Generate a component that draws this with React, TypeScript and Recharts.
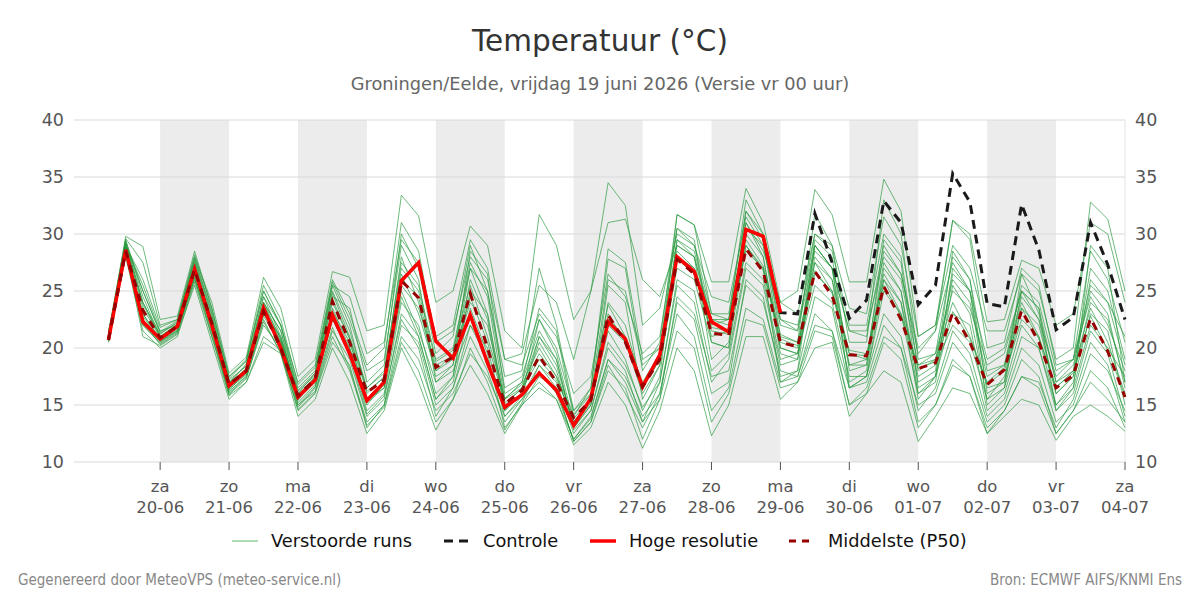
import React from "react";
import {Line, LineChart, ReferenceArea, ReferenceLine, XAxis, YAxis} from "recharts";

// 6-hourly steps, hours relative to za 20-06 00:00, first step 19-06 06:00
const START_HOUR = -18;

const dayNames = ["za", "zo", "ma", "di", "wo", "do", "vr", "za", "zo", "ma", "di", "wo", "do", "vr", "za"];
const dayDates = ["20-06", "21-06", "22-06", "23-06", "24-06", "25-06", "26-06", "27-06", "28-06", "29-06", "30-06", "01-07", "02-07", "03-07", "04-07"];
const yTicks = [10, 15, 20, 25, 30, 35, 40];

const hres = [
    20.7, 28.6, 22.3,
    20.8, 21.9, 26.9, 22.0,
    16.7, 18.0, 23.5, 20.0,
    15.7, 17.2, 22.9, 19.5,
    15.4, 17.0, 25.9, 27.5,
    20.6, 19.1, 22.9, 18.7,
    14.8, 15.9, 17.8, 16.3,
    13.2, 15.6, 22.3, 20.8,
    16.6, 19.4, 28.0, 26.7,
    22.3, 21.4, 30.4, 29.8,
    23.1,
];

const control = [
    20.7, 28.6, 22.3,
    20.8, 21.9, 26.9, 22.0,
    16.7, 18.0, 23.5, 20.0,
    15.7, 17.2, 22.9, 19.5,
    15.4, 17.0, 25.9, 27.5,
    20.6, 19.1, 22.9, 18.7,
    14.8, 15.9, 17.8, 16.3,
    13.2, 15.6, 22.3, 20.8,
    16.6, 19.4, 28.0, 26.7,
    22.3, 21.4, 30.4, 29.8,
    23.1, 23.0, 31.8, 27.5,
    22.6, 24.2, 32.9, 31.0,
    23.8, 25.5, 35.3, 32.8,
    23.9, 23.6, 32.6, 28.6,
    21.6, 22.7, 31.0, 27.3,
    22.5,
];

const median = [
    20.7, 28.5, 23.3,
    20.9, 21.9, 26.9, 22.2,
    16.8, 18.0, 23.2, 20.0,
    15.8, 17.3, 24.1, 20.5,
    16.1, 17.2, 25.9, 24.4,
    18.3, 19.2, 24.8, 20.0,
    15.1, 16.3, 19.3, 17.0,
    13.9, 15.4, 22.9, 20.5,
    16.6, 19.0, 27.8, 26.5,
    21.3, 21.1, 28.7, 26.7,
    20.5, 20.1, 26.7, 24.6,
    19.4, 19.3, 25.4, 22.5,
    18.2, 18.7, 23.1, 20.5,
    16.8, 18.1, 23.3, 20.5,
    16.5, 17.6, 22.6, 19.7,
    15.7,
];

const members = [
    [21.0, 29.2, 24.0, 21.2, 22.3, 27.5, 22.5, 17.2, 18.4, 24.0, 20.8, 16.2, 17.6, 24.8, 21.0, 16.5, 17.8, 27.0, 25.0, 18.8, 19.8, 25.5, 21.0, 15.6, 16.8, 20.0, 17.5, 14.2, 15.9, 23.8, 21.0, 17.0, 19.5, 28.5, 27.0, 21.8, 21.5, 29.5, 27.2, 21.2, 20.5, 27.5, 25.0, 19.8, 19.5, 26.0, 23.0, 18.5, 19.0, 24.0, 21.0, 17.0, 18.3, 24.0, 21.0, 16.5, 18.0, 23.5, 20.5, 16.0],
    [21.5, 28.2, 22.0, 20.5, 21.5, 26.2, 21.0, 16.2, 17.5, 22.5, 19.5, 14.8, 16.5, 21.8, 18.2, 13.5, 15.0, 22.0, 20.5, 15.0, 16.5, 21.0, 18.0, 13.5, 15.5, 17.0, 15.5, 12.0, 13.8, 19.0, 17.0, 13.5, 15.5, 24.5, 23.0, 17.5, 18.0, 25.5, 24.0, 18.0, 17.5, 23.0, 21.5, 16.5, 17.0, 22.0, 20.0, 15.0, 16.0, 20.5, 18.5, 13.5, 15.0, 19.0, 17.5, 12.5, 14.5, 18.0, 16.5, 13.0],
    [21.0, 29.8, 28.9, 22.5, 22.8, 28.5, 23.5, 17.5, 19.0, 25.0, 22.0, 17.0, 18.5, 26.0, 23.0, 18.5, 20.0, 31.0, 28.5, 20.5, 21.5, 28.0, 26.0, 19.0, 19.5, 25.5, 24.0, 19.0, 25.0, 34.5, 32.5, 22.0, 23.5, 30.0, 29.0, 23.0, 22.5, 33.0, 30.0, 22.5, 21.5, 28.5, 27.0, 21.5, 21.0, 29.0, 26.5, 20.0, 21.5, 27.5, 25.0, 19.0, 20.0, 25.0, 22.5, 17.5, 19.0, 24.5, 22.0, 18.0],
    [20.8, 29.0, 26.0, 21.8, 22.5, 28.0, 24.0, 17.8, 19.2, 26.2, 23.5, 17.5, 19.0, 26.7, 26.2, 21.5, 22.0, 33.4, 31.6, 24.0, 25.0, 30.7, 29.0, 21.5, 20.0, 31.7, 29.0, 22.5, 25.0, 31.0, 31.3, 26.0, 24.5, 29.0, 28.0, 22.0, 22.5, 31.0, 28.5, 24.0, 23.0, 30.0, 29.0, 23.5, 23.0, 31.5, 29.0, 21.0, 22.0, 31.2, 30.0, 22.3, 22.5, 27.7, 27.0, 22.0, 23.0, 31.0, 30.0, 24.0],
    [21.2, 29.5, 24.5, 21.0, 22.0, 27.2, 22.0, 16.8, 18.2, 24.5, 21.0, 15.8, 17.5, 25.5, 22.0, 16.0, 17.5, 28.0, 24.0, 17.5, 18.5, 27.0, 23.0, 15.0, 15.8, 21.0, 19.0, 13.0, 15.0, 25.5, 24.0, 15.5, 18.5, 31.7, 30.8, 25.8, 25.8, 34.0, 31.0, 24.0, 25.0, 33.9, 31.7, 25.8, 25.8, 34.8, 32.0, 21.0, 22.0, 29.0, 27.0, 21.5, 21.5, 26.5, 25.0, 19.0, 20.0, 32.8, 31.3, 25.0],
    [20.5, 28.5, 21.0, 20.2, 21.2, 25.5, 20.5, 15.5, 17.0, 20.5, 19.5, 14.0, 15.5, 20.0, 17.0, 12.5, 14.5, 20.0, 17.0, 12.8, 15.5, 18.5, 16.0, 12.5, 15.0, 16.5, 15.5, 11.5, 13.0, 17.0, 15.0, 11.2, 14.5, 20.0, 18.0, 12.3, 15.0, 21.0, 21.0, 15.5, 17.0, 20.0, 20.5, 14.0, 16.0, 18.0, 17.0, 11.8, 14.0, 16.5, 16.0, 12.5, 14.0, 15.5, 15.0, 11.9, 14.0, 15.0, 14.0, 12.7],
    [21.0, 28.8, 23.0, 20.8, 21.8, 27.0, 22.5, 16.5, 17.8, 23.5, 20.5, 15.5, 17.0, 23.5, 20.0, 14.5, 16.0, 24.0, 22.0, 16.0, 17.5, 26.0, 22.5, 14.5, 16.0, 22.5, 19.5, 13.5, 15.5, 22.0, 20.5, 16.0, 18.5, 27.0, 26.0, 20.5, 20.0, 31.0, 28.0, 19.5, 19.0, 29.0, 27.0, 18.5, 18.5, 27.5, 25.0, 17.0, 18.0, 28.5, 26.0, 16.0, 17.0, 26.5, 23.0, 17.0, 18.0, 27.0, 25.0, 19.0],
    [21.3, 29.0, 25.5, 21.5, 22.0, 27.8, 23.0, 16.9, 18.6, 24.5, 22.0, 16.0, 17.8, 24.5, 23.5, 17.0, 18.5, 30.0, 27.0, 19.5, 21.0, 29.0, 25.0, 17.5, 18.0, 27.0, 22.0, 14.5, 16.5, 27.8, 27.0, 18.0, 20.5, 31.7, 30.8, 23.0, 23.0, 32.0, 30.0, 21.0, 20.5, 31.8, 29.0, 20.5, 20.5, 33.0, 30.0, 19.0, 19.5, 28.0, 26.0, 18.0, 18.5, 25.5, 24.0, 18.0, 19.0, 28.5, 26.0, 20.5],
    [20.6, 28.0, 21.5, 20.0, 21.0, 25.8, 21.0, 15.8, 17.0, 21.0, 19.8, 14.5, 16.0, 20.5, 18.5, 13.0, 15.0, 21.0, 19.0, 14.5, 16.0, 19.5, 17.5, 14.0, 15.5, 18.0, 16.0, 12.0, 14.0, 19.0, 17.5, 14.0, 16.0, 24.0, 22.5, 16.0, 17.0, 26.0, 24.5, 17.5, 18.0, 24.5, 23.5, 16.5, 17.5, 23.0, 21.0, 14.5, 16.5, 21.5, 19.5, 14.0, 15.5, 20.0, 18.5, 13.5, 15.0, 19.5, 18.0, 14.5],
    [21.0, 29.3, 24.0, 21.0, 22.0, 27.0, 22.5, 17.0, 18.0, 23.0, 21.0, 16.0, 17.0, 22.5, 20.0, 15.5, 16.5, 26.0, 24.5, 18.0, 19.0, 24.0, 22.0, 15.5, 16.5, 19.5, 17.5, 13.5, 15.5, 24.0, 22.0, 16.5, 19.0, 29.5, 28.5, 22.5, 22.0, 30.0, 28.0, 20.0, 19.5, 26.5, 25.0, 18.5, 19.0, 28.5, 26.5, 19.5, 21.5, 31.2, 29.5, 20.0, 20.5, 27.0, 25.5, 18.5, 19.0, 25.5, 24.0, 21.0],
    [20.9, 28.7, 22.5, 20.6, 21.6, 26.5, 21.5, 16.4, 17.7, 23.0, 20.5, 15.2, 16.8, 22.8, 19.5, 15.0, 16.8, 25.0, 21.5, 17.0, 18.0, 22.0, 20.0, 14.0, 15.8, 18.5, 17.0, 12.5, 14.5, 20.5, 18.5, 14.8, 17.0, 26.0, 25.0, 18.0, 19.5, 27.5, 26.0, 19.0, 19.5, 25.5, 24.0, 17.5, 17.5, 25.0, 23.0, 16.0, 17.0, 25.5, 23.0, 15.5, 16.5, 22.0, 20.0, 15.0, 16.5, 22.0, 20.0, 17.5],
    [21.4, 29.6, 27.5, 22.0, 22.5, 28.2, 23.5, 17.5, 18.8, 25.0, 22.0, 16.5, 18.0, 25.8, 22.5, 18.0, 19.0, 29.0, 26.0, 17.0, 18.5, 28.5, 26.5, 16.0, 17.0, 23.5, 21.5, 14.0, 16.5, 28.7, 27.5, 19.0, 20.0, 30.5, 29.5, 20.5, 20.0, 29.0, 27.0, 17.0, 18.0, 29.0, 27.0, 16.5, 17.5, 26.0, 24.0, 15.5, 17.5, 26.5, 25.0, 16.5, 17.0, 23.5, 22.0, 16.0, 17.5, 24.0, 22.5, 17.0],
    [20.7, 28.3, 22.0, 20.4, 21.4, 26.0, 21.8, 16.0, 17.4, 22.0, 20.0, 15.0, 16.2, 21.5, 19.0, 14.0, 15.5, 23.0, 21.0, 15.5, 17.0, 23.5, 19.5, 13.0, 15.0, 17.5, 16.5, 11.8, 13.5, 18.5, 16.0, 13.0, 16.0, 23.0, 21.0, 14.5, 16.5, 23.5, 22.5, 17.0, 17.5, 22.0, 21.5, 15.0, 16.5, 21.0, 20.0, 13.5, 15.0, 18.5, 17.5, 12.5, 14.5, 17.5, 17.0, 13.0, 15.5, 20.5, 18.5, 13.5],
    [21.1, 29.1, 23.5, 20.9, 22.0, 27.3, 22.2, 16.6, 18.1, 23.8, 20.8, 15.6, 17.2, 23.2, 20.5, 15.5, 17.0, 26.5, 23.0, 18.0, 19.5, 27.5, 24.5, 15.5, 17.0, 21.5, 19.0, 13.0, 15.0, 22.5, 21.0, 16.5, 19.0, 28.0, 27.0, 21.0, 21.5, 28.5, 27.0, 20.5, 20.0, 28.0, 26.0, 19.5, 19.0, 26.5, 24.0, 17.5, 18.5, 22.0, 20.5, 15.5, 17.5, 22.5, 21.0, 15.0, 17.0, 23.0, 21.5, 15.0],
    [20.8, 28.9, 23.0, 20.7, 21.7, 26.8, 22.0, 16.3, 17.9, 24.0, 21.5, 15.4, 17.4, 24.0, 20.8, 15.2, 16.5, 24.5, 21.0, 15.5, 17.5, 25.0, 23.0, 15.0, 16.5, 21.0, 18.5, 13.2, 15.2, 21.5, 19.0, 14.5, 17.5, 29.5, 28.0, 19.0, 20.5, 32.0, 29.5, 20.0, 19.5, 29.5, 28.0, 18.0, 18.5, 29.5, 27.5, 16.5, 17.5, 23.0, 22.0, 14.5, 16.0, 21.0, 20.0, 14.5, 16.0, 21.5, 19.5, 14.0],
    [21.2, 29.4, 25.0, 21.3, 22.2, 27.6, 22.8, 17.0, 18.5, 24.0, 21.5, 16.3, 17.8, 25.0, 21.5, 16.5, 18.0, 27.5, 25.5, 19.0, 20.0, 27.0, 25.0, 16.5, 17.5, 22.5, 20.0, 14.5, 16.0, 26.0, 25.0, 18.5, 20.0, 29.0, 28.0, 22.5, 22.5, 30.5, 29.0, 22.0, 21.5, 30.0, 28.5, 22.0, 22.0, 30.0, 28.0, 18.0, 19.0, 26.0, 24.0, 17.5, 18.5, 24.5, 22.5, 16.0, 17.5, 26.0, 24.0, 18.5],
    [20.9, 29.0, 23.8, 21.0, 22.1, 27.1, 22.3, 16.9, 18.2, 23.6, 20.6, 15.9, 17.4, 24.3, 20.8, 16.2, 17.4, 25.5, 23.5, 18.5, 19.3, 24.5, 20.5, 15.2, 16.4, 19.0, 17.2, 13.8, 15.6, 23.0, 20.5, 16.8, 19.2, 27.8, 26.5, 21.5, 21.2, 29.0, 26.8, 20.8, 20.2, 26.8, 24.8, 19.5, 19.3, 25.5, 22.8, 18.2, 18.8, 23.2, 20.8, 16.8, 18.0, 23.5, 20.8, 16.6, 17.8, 22.8, 19.8, 15.8],
    [21.3, 28.6, 22.8, 20.6, 21.5, 26.4, 21.8, 16.1, 17.6, 22.8, 20.2, 15.0, 16.6, 22.5, 19.5, 14.2, 15.8, 22.5, 20.0, 14.0, 16.5, 22.0, 19.0, 14.5, 16.0, 20.5, 18.0, 12.8, 14.5, 20.0, 18.0, 13.5, 17.0, 25.5, 24.0, 17.0, 19.0, 27.0, 25.5, 18.5, 19.0, 27.5, 26.0, 17.0, 18.0, 27.0, 25.0, 16.0, 17.5, 27.0, 25.0, 15.0, 16.5, 25.0, 23.5, 14.5, 16.5, 29.0, 27.0, 17.0],
    [21.0, 29.1, 25.0, 21.4, 22.4, 27.9, 23.2, 17.3, 18.9, 25.5, 22.5, 16.8, 18.3, 25.5, 24.5, 19.5, 20.5, 29.5, 27.5, 21.0, 22.0, 29.5, 27.0, 19.0, 18.5, 23.0, 21.0, 16.0, 17.5, 26.5, 24.5, 19.5, 21.0, 30.5, 29.0, 24.5, 24.0, 31.5, 29.0, 22.5, 22.0, 29.0, 27.0, 21.5, 21.5, 28.0, 26.0, 18.5, 19.5, 25.0, 23.5, 18.5, 19.5, 25.0, 23.5, 17.0, 18.5, 25.0, 23.0, 16.5],
    [20.6, 28.4, 22.3, 20.3, 21.3, 26.1, 21.3, 15.9, 17.3, 22.3, 19.6, 14.6, 16.1, 21.0, 18.0, 13.2, 14.8, 20.5, 18.0, 13.5, 15.5, 20.0, 17.0, 12.8, 15.2, 18.5, 16.5, 11.8, 13.5, 18.0, 16.5, 12.0, 15.5, 21.5, 20.0, 13.5, 16.0, 22.5, 22.0, 16.5, 17.0, 21.5, 21.0, 15.0, 16.0, 20.5, 19.0, 13.0, 15.0, 19.0, 17.5, 13.0, 14.5, 17.5, 16.5, 12.5, 14.5, 17.0, 15.5, 13.5],
];

const data = control.map((c, i) => {
    const row: Record<string, number | undefined> = {t: START_HOUR + i * 6, ctrl: c, hres: hres[i], p50: median[i]};
    members.forEach((m, k) => (row["m" + k] = m[i]));
    return row;
});

const dayTicks = dayDates.map((_, i) => i * 24);
const shadedDays = dayTicks.filter((_, i) => i % 2 === 0 && i < dayTicks.length - 1);

const FONT = "'DejaVu Sans', Verdana, sans-serif";
const SMALL = "'DejaVu Sans Condensed', 'DejaVu Sans', sans-serif";

const DayTick = (props: any) => {
    const {x, y, payload} = props;
    const i = Math.round(payload.value / 24);
    return <g transform={`translate(${x},${y})`}>
        <text x={0} y={20} textAnchor="middle" fill="#555" fontSize={16.5} fontFamily={FONT}>{dayNames[i]}</text>
        <text x={0} y={41} textAnchor="middle" fill="#555" fontSize={16.5} fontFamily={FONT}>{dayDates[i]}</text>
    </g>;
};

const legendItems = [
    {label: "Verstoorde runs", x: 232, icon: <line x1={0} y1={6} x2={26} y2={6} stroke="#5cb86a" strokeWidth={1}/>},
    {label: "Controle", x: 444, icon: <line x1={0} y1={6} x2={26} y2={6} stroke="#1a1a1a" strokeWidth={3} strokeDasharray="9 6"/>},
    {label: "Hoge resolutie", x: 590, icon: <line x1={0} y1={6} x2={26} y2={6} stroke="#ff0000" strokeWidth={3.5}/>},
    {label: "Middelste (P50)", x: 789, icon: <line x1={0} y1={6} x2={22} y2={6} stroke="#990000" strokeWidth={3} strokeDasharray="7 6"/>},
];

export default function App() {
    return <div style={{position: "fixed", left: 0, top: 0, width: 1200, height: 600, background: "#fff", fontFamily: FONT}}>
        <div style={{position: "absolute", top: 24, width: 1200, textAlign: "center", fontSize: 29.5, color: "#333"}}>Temperatuur (°C)</div>
        <div style={{position: "absolute", top: 73, width: 1200, textAlign: "center", fontSize: 17.8, color: "#666"}}>Groningen/Eelde, vrijdag 19 juni 2026 (Versie vr 00 uur)</div>
        <div style={{position: "absolute", top: 0, left: 0}}>
            <LineChart width={1200} height={520} data={data} margin={{top: 120, right: 25, left: 24, bottom: 8}}>
                {shadedDays.map(d => <ReferenceArea key={d} yAxisId="l" x1={d} x2={d + 24} y1={10} y2={40} fill="#ececec" fillOpacity={1} stroke="none"/>)}
                {yTicks.map(v => <ReferenceLine key={v} yAxisId="l" y={v} stroke="#d9d9d9" strokeWidth={1}/>)}
                <ReferenceLine yAxisId="l" x={336} stroke="#e3e3e3"/>
                <XAxis dataKey="t" type="number" domain={[-30, 336]} ticks={dayTicks} tick={<DayTick/>}
                       tickLine={{stroke: "#555"}} tickSize={8} axisLine={false} height={50} interval={0}/>
                <YAxis yAxisId="l" domain={[10, 40]} ticks={yTicks} axisLine={false} tickLine={false} width={50}
                       tick={{fill: "#555", fontSize: 17.5, fontFamily: FONT}} tickMargin={4}/>
                <YAxis yAxisId="r" orientation="right" domain={[10, 40]} ticks={yTicks} axisLine={false} tickLine={false} width={50}
                       tick={{fill: "#555", fontSize: 17.5, fontFamily: FONT}} tickMargin={4}/>
                {members.map((_, k) => <Line key={k} yAxisId="l" dataKey={"m" + k} stroke="#2a9a40" strokeOpacity={0.68}
                                             strokeWidth={1} dot={false} isAnimationActive={false}/>)}
                <Line yAxisId="r" dataKey="p50" stroke="none" dot={false} activeDot={false} legendType="none" isAnimationActive={false}/>
                <Line yAxisId="l" dataKey="ctrl" stroke="#1a1a1a" strokeWidth={3} strokeDasharray="9 6" dot={false} isAnimationActive={false}/>
                <Line yAxisId="l" dataKey="hres" stroke="#ff0000" strokeWidth={3.5} dot={false} isAnimationActive={false}/>
                <Line yAxisId="l" dataKey="p50" stroke="#990000" strokeWidth={3} strokeDasharray="8 7" dot={false} isAnimationActive={false}/>
            </LineChart>
        </div>
        {legendItems.map(it => <div key={it.label} style={{position: "absolute", left: it.x, top: 530, display: "flex", alignItems: "center", fontSize: 17.8, color: "#111"}}>
            <svg width={26} height={12} style={{marginRight: 13}}>{it.icon}</svg>
            <span>{it.label}</span>
        </div>)}
        <div style={{position: "absolute", left: 18, top: 571, fontSize: 15, color: "#888", fontStretch: "condensed", fontFamily: SMALL}}>Gegenereerd door MeteoVPS (meteo-service.nl)</div>
        <div style={{position: "absolute", right: 18, top: 571, fontSize: 15, color: "#888", fontStretch: "condensed", fontFamily: SMALL}}>Bron: ECMWF AIFS/KNMI Ens</div>
    </div>;
}
